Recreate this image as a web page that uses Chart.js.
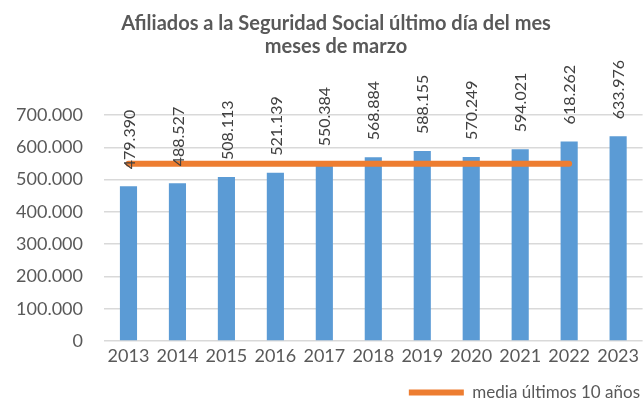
<!DOCTYPE html>
<html>
<head>
<meta charset="utf-8">
<script src="https://cdn.jsdelivr.net/npm/chart.js@4/dist/chart.umd.min.js"></script>
<style>
html,body{margin:0;padding:0;background:#fff;}
#wrap{width:643px;height:403px;position:relative;}
</style>
</head>
<body>
<div id="wrap"><canvas id="c"></canvas></div>
<script>
const years = ['2013','2014','2015','2016','2017','2018','2019','2020','2021','2022','2023'];
const afiliados = [479390, 488527, 508113, 521139, 550384, 568884, 588155, 570249, 594021, 618262, 633976];
const media = [548712, 548712, 548712, 548712, 548712, 548712, 548712, 548712, 548712, 548712, null];
const yTicks = [0, 100000, 200000, 300000, 400000, 500000, 600000, 700000];
const titleLines = ['Afiliados a la Seguridad Social último día del mes', 'meses de marzo'];
const legendLabel = 'media últimos 10 años';

function fmt(v){ return String(Math.round(v)).replace(/\B(?=(\d{3})+(?!\d))/g, '.'); }

const labelPlugin = {
  id: 'barLabels',
  afterDatasetsDraw(chart){
    const ctx = chart.ctx;
    const meta = chart.getDatasetMeta(1);
    ctx.save();
    ctx.font = '16px Lato';
    ctx.fillStyle = '#404040';
    ctx.textAlign = 'left';
    ctx.textBaseline = 'middle';
    meta.data.forEach((el, i) => {
      ctx.save();
      ctx.translate(el.x + 1, el.y - 17);
      ctx.rotate(-Math.PI/2);
      ctx.fillText(fmt(afiliados[i]), 0, 0);
      ctx.restore();
    });
    ctx.restore();
  }
};

const titlePlugin = {
  id: 'twoLineTitle',
  afterDraw(chart){
    const ctx = chart.ctx;
    ctx.save();
    ctx.font = 'bold 20px Lato';
    ctx.fillStyle = '#595959';
    ctx.textAlign = 'center';
    ctx.textBaseline = 'middle';
    ctx.fillText(titleLines[0], 336, 24);
    ctx.fillText(titleLines[1], 336, 47);
    ctx.restore();
  }
};

new Chart(document.getElementById('c'), {
  data: {
    labels: years,
    datasets: [
      {
        type: 'line',
        label: legendLabel,
        data: media,
        borderColor: '#ED7D31',
        backgroundColor: '#ED7D31',
        borderWidth: 6,
        borderCapStyle: 'round',
        pointRadius: 0,
        pointHoverRadius: 0,
        fill: false,
        order: 0,
        spanGaps: false
      },
      {
        type: 'bar',
        label: 'Afiliados',
        data: afiliados,
        backgroundColor: '#5B9BD5',
        borderWidth: 0,
        categoryPercentage: 1,
        barPercentage: 0.35,
        order: 1
      }
    ]
  },
  options: {
    responsive: true,
    maintainAspectRatio: false,
    animation: false,
    devicePixelRatio: 1,
    layout: { padding: { left: 0, right: 0, top: 115, bottom: -8 } },
    plugins: {
      tooltip: { enabled: false },
      title: { display: false },
      legend: {
        display: true,
        position: 'bottom',
        align: 'end',
        labels: {
          filter: (item) => item.datasetIndex === 0,
          color: '#595959',
          font: { family: 'Lato', size: 17 },
          usePointStyle: true,
          pointStyle: 'line',
          pointStyleWidth: 55,
          boxHeight: 6,
          padding: 3
        }
      }
    },
    scales: {
      x: {
        grid: { display: false, drawTicks: false },
        border: { display: false },
        afterFit: (scale) => { scale.height = 40; },
        ticks: {
          color: '#595959',
          font: { family: 'Lato', size: 18 },
          maxRotation: 0,
          autoSkip: false,
          padding: 4
        }
      },
      y: {
        min: 0,
        max: 700000,
        afterBuildTicks: (scale) => { scale.ticks = yTicks.map(v => ({ value: v })); },
        afterFit: (scale) => { scale.width = 104; },
        grid: { color: '#d9d9d9', lineWidth: 1.5, drawTicks: false },
        border: { display: false },
        ticks: {
          color: '#595959',
          font: { family: 'Lato', size: 18 },
          padding: 21,
          callback: (v) => fmt(v)
        }
      }
    }
  },
  plugins: [labelPlugin, titlePlugin]
});
</script>
</body>
</html>
